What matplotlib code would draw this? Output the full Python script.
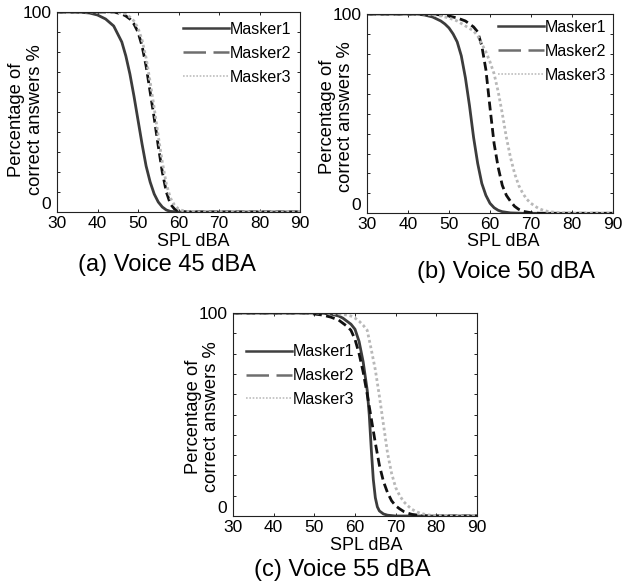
import matplotlib
matplotlib.use("Agg")
import matplotlib.pyplot as plt
from matplotlib.lines import Line2D

plt.rcParams['font.family'] = ['Liberation Sans', 'DejaVu Sans']

# ---------------- data ----------------
labels = ["Masker1", "Masker2", "Masker3"]
captions = ["(a) Voice 45 dBA", "(b) Voice 50 dBA", "(c) Voice 55 dBA"]
x_ticks = [30, 40, 50, 60, 70, 80, 90]

# Panel (a)
a_m1_x = [30, 35, 38, 40, 42, 44, 46, 47, 48, 49, 50, 51, 52, 53, 54, 55, 56, 57, 58, 60, 90]
a_m1_y = [100, 100, 99.5, 98.5, 96.5, 93, 85, 78, 69, 58, 46, 34, 23, 15, 9, 5, 2.5, 1, 0.3, 0, 0]
a_m2_x = [30, 44, 45, 46, 47, 48, 49, 50, 51, 52, 53, 54, 55, 56, 57, 58, 59, 60, 62, 90]
a_m2_y = [100, 100, 99.5, 99, 98, 96.5, 94, 90, 83, 73, 60, 47, 33, 20, 10, 4, 1.5, 0.5, 0, 0]
a_m3_x = [30, 44, 46, 47, 48, 49, 50, 51, 52, 53, 54, 55, 56, 57, 58, 59, 60, 61, 62, 64, 90]
a_m3_y = [100, 100, 99.5, 99, 97.5, 95.5, 92, 86, 77, 65, 52, 38, 25, 14, 7, 3.5, 1.5, 0.7, 0.3, 0, 0]

# Panel (b)
b_m1_x = [30, 42, 44, 46, 48, 49, 50, 51, 52, 53, 54, 55, 56, 57, 58, 59, 60, 61, 62, 63, 65, 68, 90]
b_m1_y = [100, 100, 99.5, 98.5, 96.5, 95, 93, 90, 86, 79, 68, 54, 38, 25, 15, 9, 5, 2.8, 1.5, 0.8, 0.2, 0, 0]
b_m2_x = [30, 46, 48, 50, 52, 54, 55, 56, 57, 58, 59, 60, 61, 62, 63, 64, 65, 66, 67, 68, 70, 72, 90]
b_m2_y = [100, 100, 99.5, 99, 98, 96.5, 95, 93.5, 91, 84, 72, 53, 35, 23, 14, 9, 6, 3.5, 2, 1, 0.3, 0, 0]
b_m3_x = [30, 44, 46, 48, 50, 52, 54, 56, 57, 58, 59, 60, 61, 62, 63, 64, 65, 66, 67, 68, 69, 70,
          71, 72, 73, 74, 76, 80, 90]
b_m3_y = [100, 100, 99.5, 99, 98, 96.5, 94, 91.5, 89, 85, 81, 76, 70, 61, 50, 38, 28, 20, 14, 10, 7, 5,
          3.5, 2.3, 1.5, 1, 0.4, 0, 0]

# Panel (c)
c_m1_x = [30, 50, 52, 54, 55, 56, 57, 58, 59, 60, 61, 62, 63, 63.5, 64, 64.5, 65, 65.5, 66, 67, 68, 70, 90]
c_m1_y = [100, 100, 99.8, 99.5, 99, 98.5, 97.5, 96, 94.5, 92, 86, 76, 62, 50, 33, 18, 9, 4.5, 2.5, 1, 0.4, 0, 0]
c_m2_x = [30, 48, 50, 52, 54, 56, 57, 58, 59, 60, 61, 62, 63, 64, 65, 66, 67, 68, 69, 70, 71, 72,
          73, 74, 76, 78, 90]
c_m2_y = [100, 100, 99.5, 99, 98, 96.5, 95, 93.5, 91.5, 87, 80, 71, 60, 48, 36, 25, 17, 11.5, 7.5, 5, 3.5, 2.2,
          1.4, 0.8, 0.3, 0, 0]
c_m3_x = [30, 52, 54, 56, 58, 59, 60, 61, 62, 63, 64, 65, 66, 67, 68, 69, 70, 71, 72, 73, 74, 75,
          76, 77, 78, 80, 84, 90]
c_m3_y = [100, 100, 99.8, 99.5, 99, 98.5, 97.5, 96, 94, 91.5, 82, 72, 59, 45, 31, 21, 14, 10, 7, 5, 3.3, 2.2,
          1.4, 0.9, 0.5, 0.2, 0, 0]

panels = [
    [(a_m1_x, a_m1_y), (a_m2_x, a_m2_y), (a_m3_x, a_m3_y)],
    [(b_m1_x, b_m1_y), (b_m2_x, b_m2_y), (b_m3_x, b_m3_y)],
    [(c_m1_x, c_m1_y), (c_m2_x, c_m2_y), (c_m3_x, c_m3_y)],
]

# ---------------- layout / style ----------------
W, H = 625, 582
fig = plt.figure(figsize=(W / 100, H / 100), dpi=100)

# axes boxes in pixels: left, top, right, bottom
boxes = [(57, 12, 300, 212), (367, 14, 613, 213.3), (233, 313, 477, 516)]
legend_anchor = [(0.519, 0.95), (0.533, 0.97), (0.053, 0.845)]
ylabel_pos = [(-0.126, 0.46), (-0.124, 0.484), (-0.125, 0.49)]
xlabel_px = [(193, 241), (503, 241), (366, 545)]
caption_px = [(167, 265), (506, 272), (342, 570)]

curve_styles = [
    dict(color="#3c3c3c", lw=2.0, ls="-"),
    dict(color="#111111", lw=2.0, ls=(0, (3.2, 1.6))),
    dict(color="#b8b8b8", lw=2.0, ls=(0, (1, 1))),
]
legend_styles = [
    dict(color="#404040", lw=1.8, ls="-"),
    dict(color="#6e6e6e", lw=1.8, ls=(0, (9, 3))),
    dict(color="#bdbdbd", lw=1.2, ls=(0, (1, 1))),
]

for i, (l, t, r, b) in enumerate(boxes):
    ax = fig.add_axes([l / W, 1 - b / H, (r - l) / W, (b - t) / H])
    for (xs, ys), st in zip(panels[i], curve_styles):
        ax.plot(xs, ys, **st, solid_capstyle="butt", dash_capstyle="butt",
                solid_joinstyle="round")
    ax.set_xlim(30, 90)
    ax.set_ylim(0, 100)
    ax.set_xticks(x_ticks)
    ax.set_xticklabels([str(v) for v in x_ticks])
    yt = list(range(0, 101, 10))
    ax.set_yticks(yt)
    ax.set_yticklabels(["0" if v == 0 else ("100" if v == 100 else "") for v in yt])
    ax.get_yticklabels()[0].set_va("bottom")
    ax.tick_params(direction="in", length=2.5, width=0.6, top=True, right=True,
                   labelsize=12.5, pad=3, colors="black")
    ax.tick_params(axis="y", pad=4)
    for sp in ax.spines.values():
        sp.set_linewidth(0.8)
        sp.set_color("#222222")

    ax.set_ylabel("Percentage of\ncorrect answers %", fontsize=13.2, linespacing=1.15)
    ax.yaxis.label.set_va("center")
    ax.yaxis.label.set_multialignment("center")
    ax.yaxis.set_label_coords(*ylabel_pos[i])

    handles = [Line2D([], [], **st) for st in legend_styles]
    ax.legend(handles, labels, loc="upper left", bbox_to_anchor=legend_anchor[i],
              frameon=False, fontsize=11.5, handlelength=2.9, handletextpad=0.0,
              labelspacing=0.55, borderpad=0, borderaxespad=0)

    fig.text(xlabel_px[i][0] / W, 1 - xlabel_px[i][1] / H, "SPL dBA",
             fontsize=13, ha="center", va="center")
    fig.text(caption_px[i][0] / W, 1 - caption_px[i][1] / H, captions[i],
             fontsize=17, ha="center", va="center")

fig.savefig("out.png", dpi=100)
